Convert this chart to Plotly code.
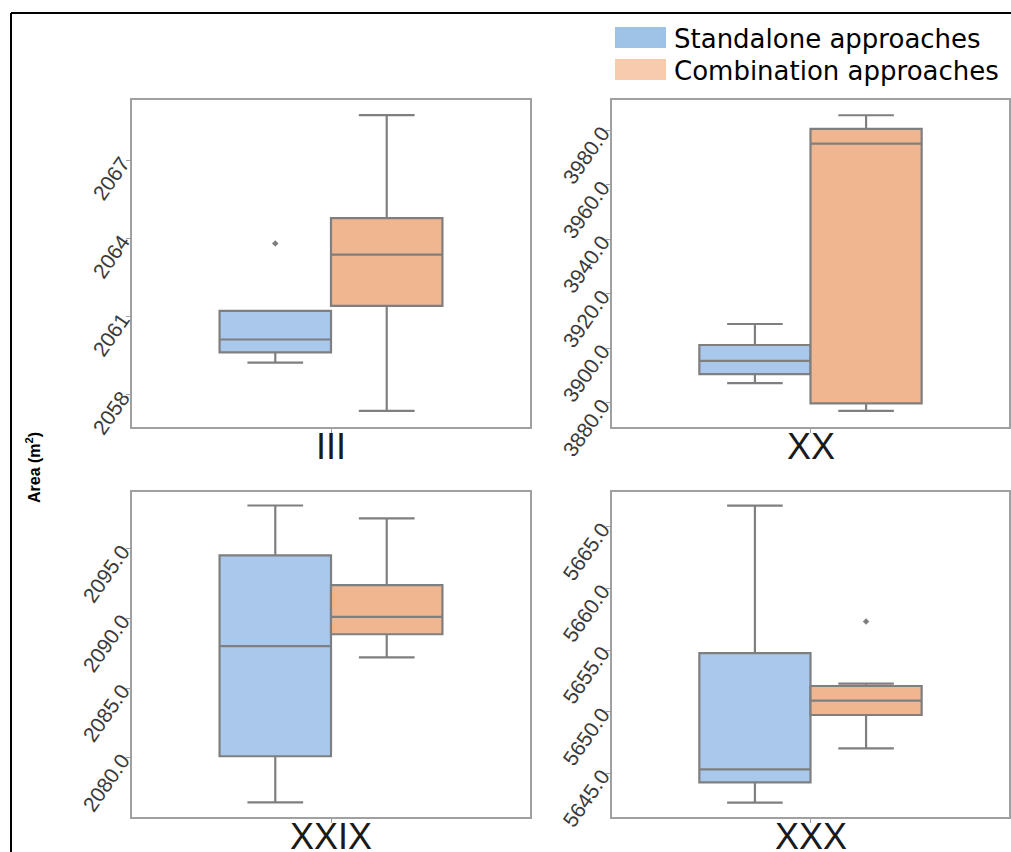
import plotly.graph_objects as go

# ---------------- data ----------------
categories = ["III", "XX", "XXIX", "XXX"]

# Standalone approaches: lower whisker, Q1, median, Q3, upper whisker
standalone_low = [2059.24, 3887.2, 2076.79, 5642.62]
standalone_q1 = [2059.64, 3890.5, 2080.10, 5644.27]
standalone_median = [2060.13, 3895.4, 2088.00, 5645.32]
standalone_q3 = [2061.23, 3901.2, 2094.52, 5654.74]
standalone_high = [2061.23, 3908.9, 2098.10, 5666.70]
standalone_outliers = [[2063.82], [], [], []]

# Combination approaches
combination_low = [2057.39, 3877.0, 2087.20, 5647.03]
combination_q1 = [2061.42, 3879.8, 2088.86, 5649.73]
combination_median = [2063.39, 3975.1, 2090.10, 5650.90]
combination_q3 = [2064.79, 3980.5, 2092.38, 5652.08]
combination_high = [2068.75, 3985.5, 2097.17, 5652.27]
combination_outliers = [[], [], [], [5657.32]]

# axis settings per panel
y_ranges = [[2056.77, 2069.33], [3871.1, 3991.1], [2075.74, 2099.07], [5641.46, 5667.81]]
y_ticks = [[2058, 2061, 2064, 2067],
           [3880, 3900, 3920, 3940, 3960, 3980],
           [2080, 2085, 2090, 2095],
           [5645, 5650, 5655, 5660, 5665]]
y_formats = ["d", ".1f", ".1f", ".1f"]

series_names = ["Standalone approaches", "Combination approaches"]
# ---------------------------------------------------------------

W, H = 1011, 852
BLUE = "#aac8eb"
ORANGE = "#f0b690"
LEG_BLUE = "#9fc3e7"
LEG_ORANGE = "#f8cbad"
LINE = "#7f7f7f"
FRAME = "#a0a0a0"
FONT = "Liberation Sans, Arial, sans-serif"

# panel pixel boxes: (x0, x1, y0top, y1bottom)
panels = [(132, 530, 100, 427), (612, 1009, 100, 427),
          (132, 530, 492, 817), (612, 1009, 492, 817)]

fig = go.Figure()
layout = dict(
    width=W, height=H,
    margin=dict(l=0, r=0, t=0, b=0, autoexpand=False),
    paper_bgcolor="white", plot_bgcolor="white",
    showlegend=False,
    font=dict(family=FONT),
)

offset = 0.14
bw = 0.28
series = [
    (standalone_low, standalone_q1, standalone_median, standalone_q3, standalone_high,
     standalone_outliers, BLUE, -offset),
    (combination_low, combination_q1, combination_median, combination_q3, combination_high,
     combination_outliers, ORANGE, offset),
]

annotations = []
for i, cat in enumerate(categories):
    n = "" if i == 0 else str(i + 1)
    xa, ya = "x" + n, "y" + n
    for si, (lo, q1, me, q3, hi, outl, col, xpos) in enumerate(series):
        fig.add_trace(go.Box(
            x=[xpos], lowerfence=[lo[i]], q1=[q1[i]], median=[me[i]], q3=[q3[i]],
            upperfence=[hi[i]], width=bw, whiskerwidth=0.5,
            fillcolor=col, line=dict(color=LINE, width=2.2),
            boxpoints=False, name=series_names[si], xaxis=xa, yaxis=ya,
            hoverinfo="skip",
        ))
        if outl[i]:
            fig.add_trace(go.Scatter(
                x=[xpos] * len(outl[i]), y=outl[i], mode="markers",
                marker=dict(symbol="diamond", size=5, color=LINE),
                xaxis=xa, yaxis=ya, hoverinfo="skip",
            ))
    x0, x1, yt, yb = panels[i]
    layout["xaxis" + n] = dict(
        domain=[x0 / W, x1 / W], anchor=ya, range=[-0.5, 0.5],
        tickvals=[0], showticklabels=False, ticks="outside", ticklen=4, tickcolor=FRAME,
        showline=True, linecolor=FRAME, linewidth=1.5, mirror=True,
        showgrid=False, zeroline=False, fixedrange=True,
    )
    layout["yaxis" + n] = dict(
        domain=[1 - yb / H, 1 - yt / H], anchor=xa, range=y_ranges[i],
        tickvals=y_ticks[i], tickformat=y_formats[i], tickangle=-55,
        ticks="outside", ticklen=4, tickcolor=FRAME,
        tickfont=dict(size=21, color="#3a3a3a", family=FONT),
        showline=True, linecolor=FRAME, linewidth=1.5, mirror=True,
        showgrid=False, zeroline=False, fixedrange=True,
    )
    # category label under each panel
    annotations.append(dict(
        text=cat, xref=xa, yref="paper", x=0, y=1 - (yb + 19) / H,
        xanchor="center", yanchor="middle", showarrow=False,
        font=dict(size=36, color="#1a1a1a", family=FONT),
    ))

shapes = [
    # outer black frame (top and left edges visible)
    dict(type="line", xref="paper", yref="paper", x0=11 / W, x1=1.0, y0=1 - 13 / H, y1=1 - 13 / H,
         line=dict(color="#000000", width=2)),
    dict(type="line", xref="paper", yref="paper", x0=11 / W, x1=11 / W, y0=0, y1=1 - 13 / H,
         line=dict(color="#000000", width=2)),
    # legend swatches
    dict(type="rect", xref="paper", yref="paper", x0=615 / W, x1=666 / W, y0=1 - 48 / H, y1=1 - 27 / H,
         fillcolor=LEG_BLUE, line=dict(width=0)),
    dict(type="rect", xref="paper", yref="paper", x0=615 / W, x1=666 / W, y0=1 - 80 / H, y1=1 - 59 / H,
         fillcolor=LEG_ORANGE, line=dict(width=0)),
]
annotations += [
    dict(text=series_names[0], xref="paper", yref="paper", x=672 / W, y=1 - 39 / H,
         xanchor="left", yanchor="middle", showarrow=False,
         font=dict(size=26, color="#000000", family="DejaVu Sans, sans-serif")),
    dict(text=series_names[1], xref="paper", yref="paper", x=672 / W, y=1 - 71 / H,
         xanchor="left", yanchor="middle", showarrow=False,
         font=dict(size=26, color="#000000", family="DejaVu Sans, sans-serif")),
    dict(text="<b>Area (m<sup>2</sup>)</b>", xref="paper", yref="paper", x=33 / W, y=1 - 468 / H,
         xanchor="center", yanchor="middle", textangle=-90, showarrow=False,
         font=dict(size=16, color="#000000", family=FONT)),
]
layout["shapes"] = shapes
layout["annotations"] = annotations
fig.update_layout(**layout)

fig.write_html("out.html")
